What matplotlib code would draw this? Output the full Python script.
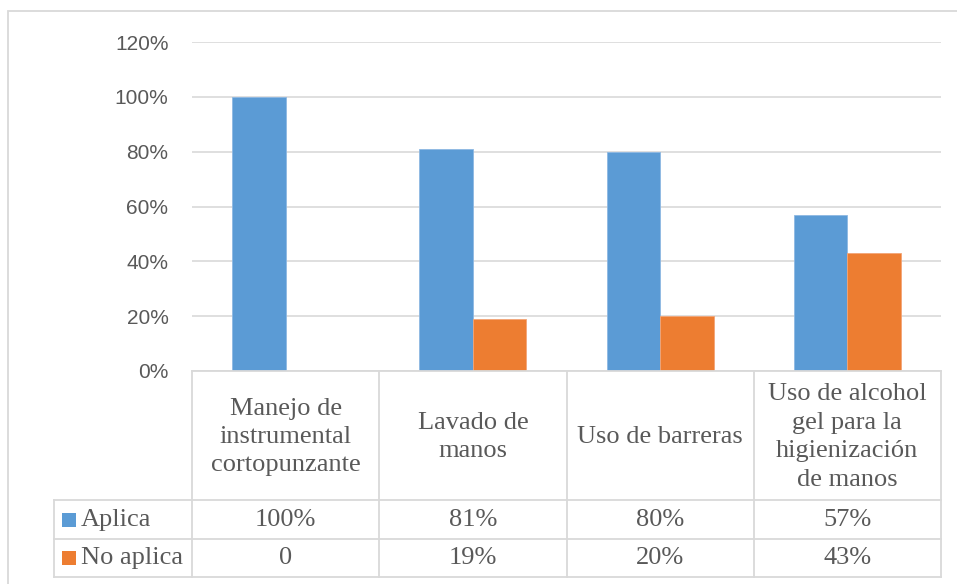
import matplotlib
matplotlib.use("Agg")
import matplotlib.pyplot as plt
from matplotlib.transforms import blended_transform_factory
from matplotlib.lines import Line2D
from matplotlib.patches import Rectangle
import numpy as np

categories = ["Manejo de\ninstrumental\ncortopunzante", "Lavado de\nmanos",
              "Uso de barreras", "Uso de alcohol\ngel para la\nhigienización\nde manos"]
series_names = ["Aplica", "No aplica"]
aplica = [1.00, 0.81, 0.80, 0.57]
no_aplica = [0.0, 0.19, 0.20, 0.43]
aplica_labels = ["100%", "81%", "80%", "57%"]
no_aplica_labels = ["0", "19%", "20%", "43%"]
yticks = [0, 0.2, 0.4, 0.6, 0.8, 1.0, 1.2]
ytick_labels = ["0%", "20%", "40%", "60%", "80%", "100%", "120%"]

W, H = 957, 584
BLUE = "#5B9BD5"
ORANGE = "#ED7D31"
GRID = "#D9D9D9"
TXT = "#595959"

def fy(px):
    return 1 - px / H

def fx(px):
    return px / W

fig = plt.figure(figsize=(W / 100, H / 100), dpi=100)
fig.patch.set_facecolor("white")

ax = fig.add_axes([fx(192), fy(371), fx(941) - fx(192), fy(42) - fy(371)])
x = np.arange(len(categories))
bw = 1 / 3.5
ax.bar(x - bw / 2, aplica, bw, color=BLUE, edgecolor="#8DB8E3", linewidth=0.6, zorder=3)
ax.bar(x + bw / 2, no_aplica, bw, color=ORANGE, edgecolor="#F3A577", linewidth=0.6, zorder=3)
ax.set_xlim(-0.5, len(categories) - 0.5)
ax.set_ylim(0, 1.2)
ax.set_yticks(yticks)
ax.set_yticklabels(ytick_labels, fontfamily="Liberation Sans", fontsize=15, color=TXT)
ax.tick_params(axis="y", length=0, pad=17)
ax.set_xticks([])
ax.grid(axis="y", color=GRID, linewidth=1.2, zorder=0)
for s in ax.spines.values():
    s.set_visible(False)

tr = blended_transform_factory(ax.transData, fig.transFigure)

# table lines
y_top, y_r1, y_r2, y_bot = 371, 500, 538.5, 577
xl = -0.5 - (192 - 53.5) / (941 - 192) * 4  # label column left in data units
lc = dict(color=GRID, linewidth=1.3)
n = len(categories)
for b in np.arange(n + 1) - 0.5:
    fig.add_artist(Line2D([b, b], [fy(y_top), fy(y_bot)], transform=tr, **lc))
fig.add_artist(Line2D([xl, xl], [fy(y_r1), fy(y_bot)], transform=tr, **lc))
fig.add_artist(Line2D([-0.5, n - 0.5], [fy(y_top), fy(y_top)], transform=tr, **lc))
for yy in (y_r1, y_r2, y_bot):
    fig.add_artist(Line2D([xl, n - 0.5], [fy(yy), fy(yy)], transform=tr, **lc))

serif = "Liberation Serif"
FS = 19
for i, c in enumerate(categories):
    fig.text(i, fy(437), c, transform=tr, ha="center", va="center",
             fontfamily=serif, fontsize=FS, color=TXT, linespacing=1.38)
    fig.text(i, fy(520), aplica_labels[i], transform=tr, ha="center", va="center",
             fontfamily=serif, fontsize=FS, color=TXT)
    fig.text(i, fy(558), no_aplica_labels[i], transform=tr, ha="center", va="center",
             fontfamily=serif, fontsize=FS, color=TXT)

for name, col, yc in ((series_names[0], BLUE, 520), (series_names[1], ORANGE, 558)):
    fig.add_artist(Rectangle((fx(62), fy(yc + 7)), fx(14), fx(14) * W / H,
                             transform=fig.transFigure, facecolor=col, edgecolor="none"))
    fig.text(fx(81), fy(yc), name, ha="left", va="center",
             fontfamily=serif, fontsize=FS, color=TXT)

# outer chart border
fig.add_artist(Rectangle((fx(8), fy(600)), fx(960) - fx(8), fy(11) - fy(600),
                         transform=fig.transFigure, facecolor="none",
                         edgecolor=GRID, linewidth=1.3))

fig.savefig("out.png", dpi=100, facecolor="white")
